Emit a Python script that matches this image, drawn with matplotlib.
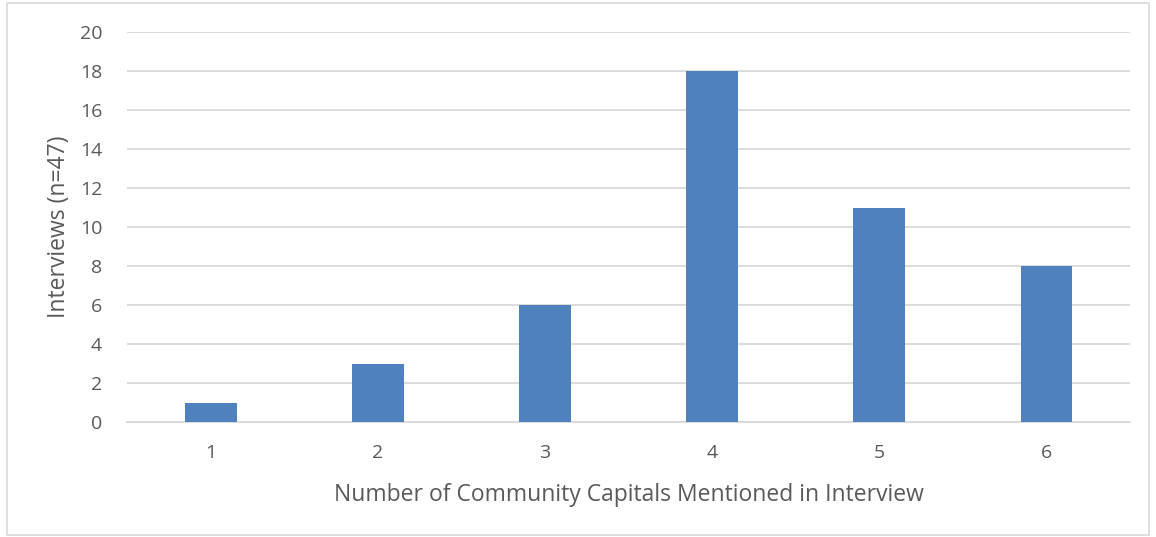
import matplotlib
matplotlib.use("Agg")
import matplotlib.pyplot as plt

# ---- data ----
categories = ["1", "2", "3", "4", "5", "6"]
interviews = [1, 3, 6, 18, 11, 8]
y_ticks = [0, 2, 4, 6, 8, 10, 12, 14, 16, 18, 20]

plt.rcParams['font.family'] = ['Open Sans', 'DejaVu Sans']
text_color = '#595959'
grid_color = '#d9d9d9'

fig = plt.figure(figsize=(11.56, 5.37), dpi=100)
ax = fig.add_axes([0.110, 0.214, 0.8675, 0.726])

x = list(range(len(categories)))
ax.bar(x, interviews, width=0.31, color='#4f81bd', zorder=3)

ax.set_xlim(-0.5, len(categories) - 0.5)
ax.set_ylim(0, 20)
ax.set_yticks(y_ticks)
ax.set_xticks(x)
ax.set_xticklabels(categories)

ax.yaxis.grid(True, color=grid_color, linewidth=1.3, zorder=0)
for side in ['top', 'right', 'left']:
    ax.spines[side].set_visible(False)
ax.spines['bottom'].set_color(grid_color)
ax.spines['bottom'].set_linewidth(1.3)
ax.tick_params(axis='both', length=0, labelsize=14, colors=text_color)
ax.tick_params(axis='x', pad=16)
ax.tick_params(axis='y', pad=18)

ax.set_xlabel('Number of Community Capitals Mentioned in Interview',
              fontsize=16.5, color=text_color, labelpad=15)
ax.set_ylabel('Interviews (n=47)', fontsize=16.5, color=text_color, labelpad=6)

# light border around the chart area
border = plt.Rectangle((0.006, 0.004), 0.988, 0.99, transform=fig.transFigure,
                       fill=False, edgecolor=grid_color, linewidth=1.2)
fig.patches.append(border)

fig.savefig('out.png', dpi=100)
